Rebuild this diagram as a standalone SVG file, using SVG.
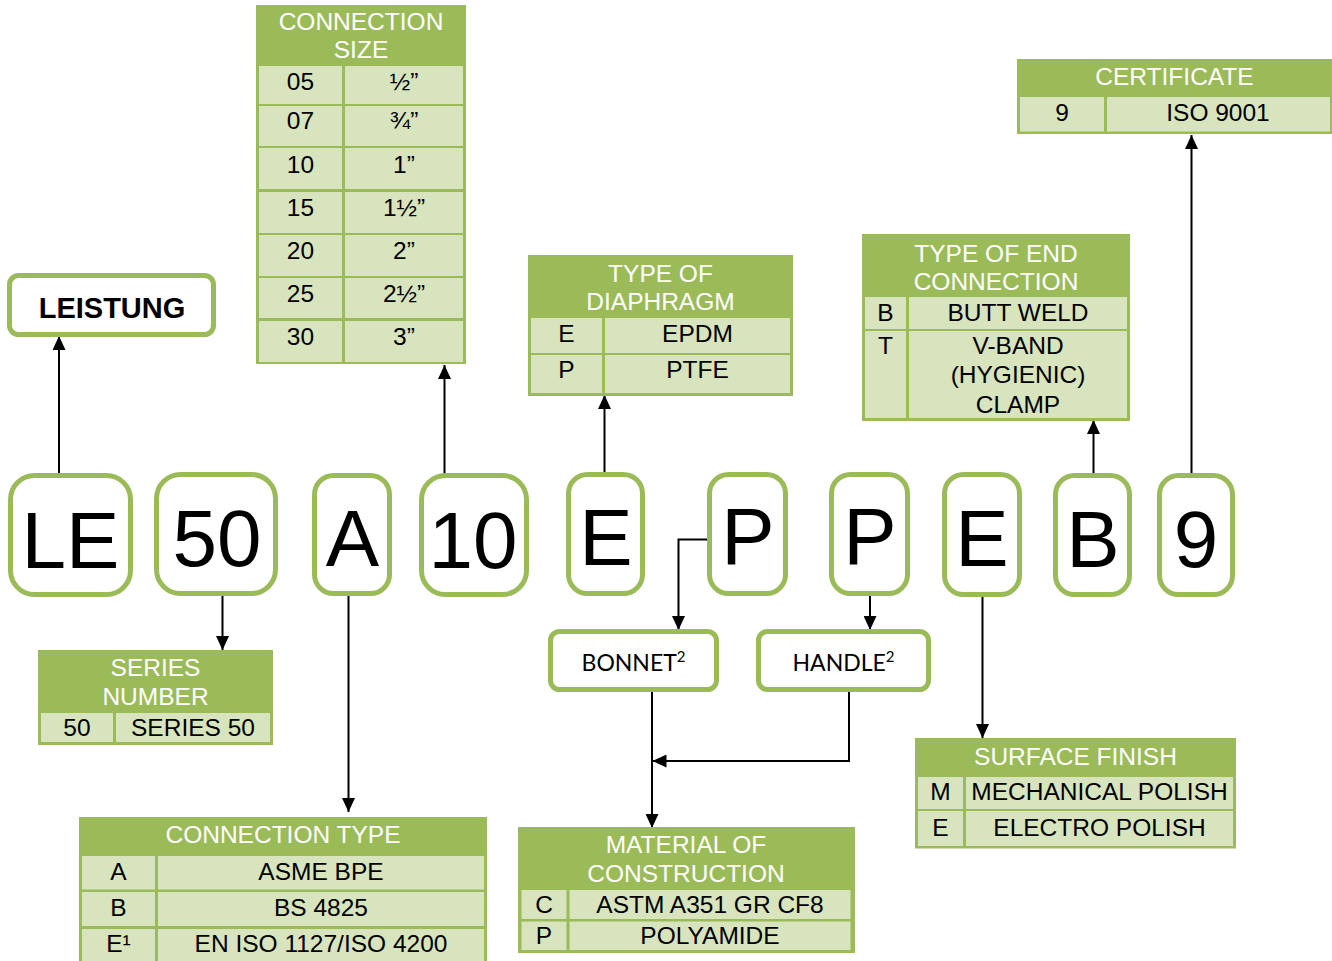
<svg xmlns="http://www.w3.org/2000/svg" width="1332" height="961" viewBox="0 0 1332 961">
<defs>
<style>
.box{fill:#fff;stroke:#9BBB59;stroke-width:5}
.code{font-family:"Liberation Sans",Arial,sans-serif;font-size:80px;text-anchor:middle;fill:#000}
.hd{fill:#9BBB59}
.cell{fill:#D7E4BD}
.ht{font-family:"Liberation Sans",Arial,sans-serif;font-size:24.5px;fill:#fff;text-anchor:middle}
.ct{font-family:"Liberation Sans",Arial,sans-serif;font-size:24.5px;fill:#000;text-anchor:middle}
.lbl{font-family:Lato,"Open Sans",sans-serif;font-size:23px;fill:#000;text-anchor:middle}
.conn{stroke:#000;stroke-width:2;fill:none}
</style>
<marker id="ah" markerUnits="userSpaceOnUse" markerWidth="14" markerHeight="13" viewBox="0 0 14 13" refX="14" refY="6.5" orient="auto">
<path d="M0,0 L14,6.5 L0,13 z" fill="#000"/>
</marker>
</defs>
<rect width="1332" height="961" fill="#fff"/>

<g id="connectors">
<path class="conn" d="M59,475 V336" marker-end="url(#ah)"/>
<path class="conn" d="M222.5,596 V650" marker-end="url(#ah)"/>
<path class="conn" d="M348.5,596 V812" marker-end="url(#ah)"/>
<path class="conn" d="M444.5,475 V365" marker-end="url(#ah)"/>
<path class="conn" d="M604.5,472 V395" marker-end="url(#ah)"/>
<path class="conn" d="M707,539.5 H678.5 V630" marker-end="url(#ah)"/>
<path class="conn" d="M870,596 V630" marker-end="url(#ah)"/>
<path class="conn" d="M982.5,597 V738" marker-end="url(#ah)"/>
<path class="conn" d="M1093.5,474 V420" marker-end="url(#ah)"/>
<path class="conn" d="M1191.5,474 V135" marker-end="url(#ah)"/>
<path class="conn" d="M652,692 V828" marker-end="url(#ah)"/>
<path class="conn" d="M849,692 V761 H652.5" marker-end="url(#ah)"/>
</g>

<g id="code-LE"><rect class="box" x="10.5" y="475.5" width="120" height="119" rx="24"/><text class="code" x="70.5" y="568">LE</text></g>
<g id="code-50"><rect class="box" x="156.5" y="474.5" width="119" height="119" rx="24"/><text class="code" x="217" y="566">50</text></g>
<g id="code-A"><rect class="box" x="314.5" y="475.5" width="75" height="118" rx="19"/><text class="code" x="352.5" y="566">A</text></g>
<g id="code-10"><rect class="box" x="421.5" y="475.5" width="105" height="119" rx="24"/><text class="code" x="473" y="568">10</text></g>
<g id="code-E1"><rect class="box" x="568.5" y="474.5" width="74" height="119" rx="19"/><text class="code" x="606" y="565">E</text></g>
<g id="code-P1"><rect class="box" x="709.5" y="474.5" width="76" height="119" rx="19"/><text class="code" x="748" y="564">P</text></g>
<g id="code-P2"><rect class="box" x="831.5" y="474.5" width="76" height="119" rx="19"/><text class="code" x="870" y="564">P</text></g>
<g id="code-E2"><rect class="box" x="944.5" y="474.5" width="75" height="120" rx="19"/><text class="code" x="982" y="566">E</text></g>
<g id="code-B"><rect class="box" x="1055.5" y="475.5" width="74" height="119" rx="19"/><text class="code" x="1093" y="567">B</text></g>
<g id="code-9"><rect class="box" x="1159.5" y="475.5" width="73" height="119" rx="19"/><text class="code" x="1196" y="567">9</text></g>

<g id="leistung"><rect class="box" x="9.5" y="275.5" width="204" height="59" rx="9"/><text x="112" y="318" font-family="Liberation Sans,Arial,sans-serif" font-size="29" font-weight="bold" text-anchor="middle">LEISTUNG</text></g>

<g id="bonnet"><rect class="box" x="550.5" y="631.5" width="166" height="58" rx="9"/><text class="lbl" x="633.5" y="671">BONNET<tspan font-size="15" dy="-9">2</tspan></text></g>
<g id="handle"><rect class="box" x="758.5" y="631.5" width="170" height="58" rx="9"/><text class="lbl" x="843.5" y="671">HANDLE<tspan font-size="15" dy="-9">2</tspan></text></g>

<g id="connection-size">
<rect class="hd" x="256" y="5" width="210" height="359"/>
<text class="ht" x="361" y="30">CONNECTION</text>
<text class="ht" x="361" y="58">SIZE</text>
<rect class="cell" x="259" y="66" width="83" height="38"/><rect class="cell" x="345" y="66" width="118" height="38"/>
<rect class="cell" x="259" y="106" width="83" height="40"/><rect class="cell" x="345" y="106" width="118" height="40"/>
<rect class="cell" x="259" y="148" width="83" height="41"/><rect class="cell" x="345" y="148" width="118" height="41"/>
<rect class="cell" x="259" y="192" width="83" height="41"/><rect class="cell" x="345" y="192" width="118" height="41"/>
<rect class="cell" x="259" y="235" width="83" height="41"/><rect class="cell" x="345" y="235" width="118" height="41"/>
<rect class="cell" x="259" y="278" width="83" height="40"/><rect class="cell" x="345" y="278" width="118" height="40"/>
<rect class="cell" x="259" y="321" width="83" height="41"/><rect class="cell" x="345" y="321" width="118" height="41"/>
<text class="ct" x="300.5" y="90">05</text><text class="ct" x="404" y="90">½”</text>
<text class="ct" x="300.5" y="129">07</text><text class="ct" x="404" y="129">¾”</text>
<text class="ct" x="300.5" y="173">10</text><text class="ct" x="404" y="173">1”</text>
<text class="ct" x="300.5" y="216">15</text><text class="ct" x="404" y="216">1½”</text>
<text class="ct" x="300.5" y="259">20</text><text class="ct" x="404" y="259">2”</text>
<text class="ct" x="300.5" y="302">25</text><text class="ct" x="404" y="302">2½”</text>
<text class="ct" x="300.5" y="345">30</text><text class="ct" x="404" y="345">3”</text>
</g>

<g id="diaphragm">
<rect class="hd" x="528" y="255" width="265" height="141"/>
<text class="ht" x="660.5" y="281.5">TYPE OF</text>
<text class="ht" x="660.5" y="310">DIAPHRAGM</text>
<rect class="cell" x="531" y="318" width="71" height="35"/><rect class="cell" x="605" y="318" width="185" height="35"/>
<rect class="cell" x="531" y="355" width="71" height="38"/><rect class="cell" x="605" y="355" width="185" height="38"/>
<text class="ct" x="566.5" y="341.5">E</text><text class="ct" x="697.5" y="341.5">EPDM</text>
<text class="ct" x="566.5" y="378">P</text><text class="ct" x="697.5" y="378">PTFE</text>
</g>

<g id="end-connection">
<rect class="hd" x="862" y="234" width="268" height="187"/>
<text class="ht" x="996" y="261.5">TYPE OF END</text>
<text class="ht" x="996" y="289.5">CONNECTION</text>
<rect class="cell" x="865" y="297" width="41" height="32"/><rect class="cell" x="909" y="297" width="218" height="32"/>
<rect class="cell" x="865" y="331" width="41" height="87"/><rect class="cell" x="909" y="331" width="218" height="87"/>
<text class="ct" x="885.5" y="320.5">B</text><text class="ct" x="1018" y="320.5">BUTT WELD</text>
<text class="ct" x="885.5" y="354">T</text><text class="ct" x="1018" y="354">V-BAND</text>
<text class="ct" x="1018" y="383">(HYGIENIC)</text>
<text class="ct" x="1018" y="412.5">CLAMP</text>
</g>

<g id="certificate">
<rect class="hd" x="1017" y="59" width="315" height="75"/>
<text class="ht" x="1174.5" y="85">CERTIFICATE</text>
<rect class="cell" x="1020" y="97" width="84" height="34.5"/><rect class="cell" x="1107" y="97" width="223" height="34.5"/>
<text class="ct" x="1062" y="121">9</text><text class="ct" x="1218" y="121">ISO 9001</text>
</g>

<g id="series-number">
<rect class="hd" x="38" y="650" width="235" height="95"/>
<text class="ht" x="155.5" y="676">SERIES</text>
<text class="ht" x="155.5" y="705">NUMBER</text>
<rect class="cell" x="41" y="713" width="72" height="29"/><rect class="cell" x="116" y="713" width="154" height="29"/>
<text class="ct" x="77" y="736">50</text><text class="ct" x="193" y="736">SERIES 50</text>
</g>

<g id="connection-type">
<rect class="hd" x="79" y="817" width="408" height="160"/>
<text class="ht" x="283" y="843">CONNECTION TYPE</text>
<rect class="cell" x="82" y="856" width="73" height="33.5"/><rect class="cell" x="158" y="856" width="326" height="33.5"/>
<rect class="cell" x="82" y="892" width="73" height="34"/><rect class="cell" x="158" y="892" width="326" height="34"/>
<rect class="cell" x="82" y="929" width="73" height="45"/><rect class="cell" x="158" y="929" width="326" height="45"/>
<text class="ct" x="118.5" y="880">A</text><text class="ct" x="321" y="880">ASME BPE</text>
<text class="ct" x="118.5" y="915.5">B</text><text class="ct" x="321" y="915.5">BS 4825</text>
<text class="ct" x="118.5" y="951.5">E¹</text><text class="ct" x="321" y="951.5">EN ISO 1127/ISO 4200</text>
</g>

<g id="material">
<rect class="hd" x="518" y="827" width="337" height="126"/>
<text class="ht" x="686" y="853">MATERIAL OF</text>
<text class="ht" x="686" y="882">CONSTRUCTION</text>
<rect class="cell" x="521.5" y="890" width="45" height="29"/><rect class="cell" x="569.5" y="890" width="281" height="29"/>
<rect class="cell" x="521.5" y="921.5" width="45" height="28.5"/><rect class="cell" x="569.5" y="921.5" width="281" height="28.5"/>
<text class="ct" x="544" y="913">C</text><text class="ct" x="710" y="913">ASTM A351 GR CF8</text>
<text class="ct" x="544" y="944">P</text><text class="ct" x="710" y="944">POLYAMIDE</text>
</g>

<g id="surface-finish">
<rect class="hd" x="915" y="738" width="321" height="110.5"/>
<text class="ht" x="1075.5" y="765">SURFACE FINISH</text>
<rect class="cell" x="918" y="777" width="45" height="32"/><rect class="cell" x="966" y="777" width="267" height="32"/>
<rect class="cell" x="918" y="811" width="45" height="35"/><rect class="cell" x="966" y="811" width="267" height="35"/>
<text class="ct" x="940.5" y="800">M</text><text class="ct" x="1099.5" y="800">MECHANICAL POLISH</text>
<text class="ct" x="940.5" y="835.5">E</text><text class="ct" x="1099.5" y="835.5">ELECTRO POLISH</text>
</g>
</svg>
